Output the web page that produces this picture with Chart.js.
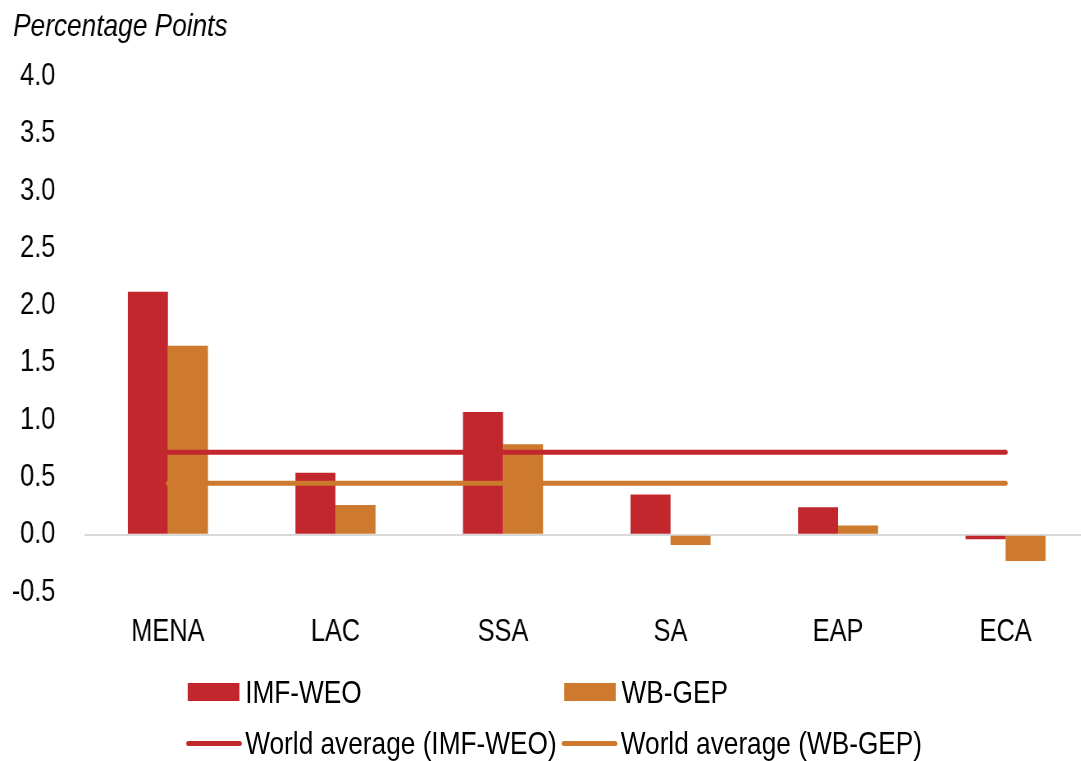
<!DOCTYPE html>
<html>
<head>
<meta charset="utf-8">
<script src="https://cdn.jsdelivr.net/npm/chart.js@4/dist/chart.umd.min.js"></script>
<style>
  html, body { margin: 0; padding: 0; background: #fff; overflow: hidden; }
  /* Arial Narrow look: draw with Liberation Sans and squeeze horizontally */
  #page { position: relative; width: 1331px; height: 761px; transform: scaleX(0.82); transform-origin: 0 0; }
  #wrap { position: absolute; left: 0; top: 0; width: 1331px; height: 656px; }
  .item { position: absolute; display: flex; align-items: center; height: 40px; font: 32px "Liberation Sans", Arial, sans-serif; color: #000; white-space: nowrap; }
  .box { width: 63px; height: 18px; margin-right: 7px; }
  .ln { width: 68px; height: 5px; border-radius: 3px; margin-right: 4px; }
</style>
</head>
<body>
<div id="page">
  <div id="wrap"><canvas id="chart"></canvas></div>
  <div id="legend"></div>
</div>
<script>
const FONT = '"Liberation Sans", Arial, sans-serif';

// ===== Data =====
const regions   = ["MENA", "LAC", "SSA", "SA", "EAP", "ECA"];
const imfWeo    = [2.12, 0.54, 1.07, 0.35, 0.24, -0.04];
const wbGep     = [1.65, 0.26, 0.79, -0.09, 0.08, -0.23];
const worldImf  = [0.72, 0.72, 0.72, 0.72, 0.72, 0.72];
const worldWb   = [0.45, 0.45, 0.45, 0.45, 0.45, 0.45];

const RED    = "#C1272D";
const ORANGE = "#CD7A2E";

const ctx = document.getElementById("chart").getContext("2d");
const chart = new Chart(ctx, {
  type: "bar",
  data: {
    labels: regions,
    datasets: [
      { type: "line", label: "World average (IMF-WEO)", data: worldImf, borderColor: RED, backgroundColor: RED,
        borderWidth: 5, borderCapStyle: "round", pointRadius: 0, order: 0, legendPos: [227, 743] },
      { type: "line", label: "World average (WB-GEP)", data: worldWb, borderColor: ORANGE, backgroundColor: ORANGE,
        borderWidth: 5, borderCapStyle: "round", pointRadius: 0, order: 0, legendPos: [685, 743] },
      { label: "IMF-WEO", data: imfWeo, backgroundColor: RED, order: 1, legendPos: [229, 692] },
      { label: "WB-GEP", data: wbGep, backgroundColor: ORANGE, order: 1, legendPos: [688, 692] }
    ]
  },
  options: {
    responsive: true,
    maintainAspectRatio: false,
    animation: false,
    datasets: { bar: { categoryPercentage: 0.478, barPercentage: 1 } },
    layout: { padding: { left: 16, right: 0, top: 0, bottom: 0 } },
    scales: {
      x: {
        afterFit: (s) => { s.height = 64; },
        grid: { display: false, drawTicks: false },
        border: { display: false },
        ticks: { color: "#000", font: { family: FONT, size: 31 }, padding: 22 }
      },
      y: {
        min: -0.5, max: 4.0,
        afterFit: (s) => { s.width = 86.6; },
        border: { display: false },
        grid: {
          drawTicks: false,
          color: (c) => c.tick && c.tick.value === 0 ? "#D9D9D9" : "rgba(0,0,0,0)",
          lineWidth: (c) => c.tick && c.tick.value === 0 ? 2 : 0
        },
        ticks: {
          stepSize: 0.5, padding: 35, color: "#000",
          font: { family: FONT, size: 31 },
          callback: (v) => Number(v).toFixed(1)
        }
      }
    },
    plugins: {
      legend: { display: false },
      tooltip: { enabled: false },
      title: {
        display: true, text: "Percentage Points", align: "start", color: "#000",
        font: { family: FONT, size: 32, style: "italic", weight: "normal" },
        padding: { top: 8, bottom: 30 }
      }
    }
  }
});

// ===== HTML legend (2 columns) =====
const legendEl = document.getElementById("legend");
chart.data.datasets.forEach(ds => {
  const it = document.createElement("div");
  it.className = "item";
  const mark = document.createElement("span");
  mark.className = ds.type === "line" ? "ln" : "box";
  mark.style.background = ds.backgroundColor;
  it.appendChild(mark);
  it.appendChild(document.createTextNode(ds.label));
  it.style.left = ds.legendPos[0] + "px";
  it.style.top = (ds.legendPos[1] - 20) + "px";
  legendEl.appendChild(it);
});
</script>
</body>
</html>
